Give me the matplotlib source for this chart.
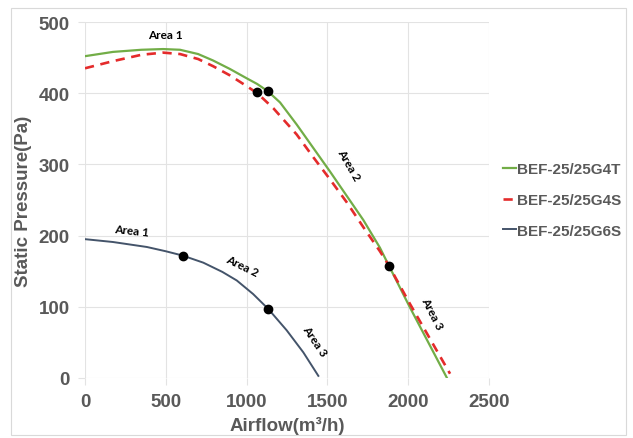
import matplotlib
matplotlib.use("Agg")
from matplotlib import pyplot as plt
from matplotlib.patches import Rectangle

plt.rcParams["font.family"] = ["Liberation Sans", "DejaVu Sans"]

# curve data (airflow m3/h, static pressure Pa)
g4t_flow = [0, 173, 350, 483, 588, 700, 792, 897, 1000, 1065, 1130, 1207, 1310, 1413, 1516,
            1619, 1722, 1825, 1880, 2011, 2240]
g4t_pres = [452, 458, 461, 462, 461, 455, 446, 434, 421, 413, 403, 387, 356, 323, 290,
            256, 222, 183, 158, 99, 0]

g4s_flow = [0, 173, 350, 483, 588, 700, 792, 897, 1000, 1066, 1165, 1310, 1413, 1516,
            1619, 1722, 1825, 1880, 2011, 2259]
g4s_pres = [435, 445, 454, 457, 455, 448, 438, 425, 410, 400, 379, 342, 310, 279,
            247, 212, 178, 158, 104, 6]

g6s_flow = [0, 173, 383, 500, 604, 732, 850, 939, 1040, 1134, 1248, 1351, 1444]
g6s_pres = [195, 191, 184, 178, 172, 162, 149, 137, 118, 97, 67, 36, 3]

# area boundary dots
dot_flow = [1066, 1130, 1880, 604, 1134]
dot_pres = [401, 403, 157, 172, 97]

series_names = ["BEF-25/25G4T", "BEF-25/25G4S", "BEF-25/25G6S"]
x_ticks = [0, 500, 1000, 1500, 2000, 2500]
y_ticks = [0, 100, 200, 300, 400, 500]

# area labels: text, x, y, rotation
area_labels = [
    ("Area 1", 495, 483, 0),
    ("Area 2", 1632, 300, -60),
    ("Area 3", 2150, 92, -63),
    ("Area 1", 290, 208, -6),
    ("Area 2", 970, 158, -26),
    ("Area 3", 1423, 53, -56),
]

grey = "#595959"

fig = plt.figure(figsize=(6.33, 4.39), dpi=100)
ax = fig.add_axes([85 / 633, 1 - 379 / 439, 404 / 633, 356 / 439])

ax.plot(g4t_flow, g4t_pres, color="#72ad47", lw=1.6, label=series_names[0], zorder=3)
ax.plot(g4s_flow, g4s_pres, color="#e42b2b", lw=1.9, ls=(0, (3.5, 2.5)),
        label=series_names[1], zorder=3)
ax.plot(g6s_flow, g6s_pres, color="#44546a", lw=1.4, label=series_names[2], zorder=3)
ax.plot(dot_flow, dot_pres, "o", color="black", ms=6, zorder=4)

for txt, x, y, rot in area_labels:
    ax.text(x, y, txt, rotation=rot, ha="center", va="center", fontsize=8.5,
            fontweight="bold", family="Lato", rotation_mode="anchor")

ax.set_xlim(0, 2500)
ax.set_ylim(0, 500)
ax.set_xticks(x_ticks)
ax.set_yticks(y_ticks)
ax.grid(True, color="#e3e3e3", lw=0.8)
ax.set_axisbelow(True)
for s in ax.spines.values():
    s.set_visible(False)
ax.tick_params(axis="both", colors="#e3e3e3", labelcolor=grey, labelsize=13.5,
               length=5, width=0.8)
ax.tick_params(axis="y", pad=6)
ax.tick_params(axis="x", pad=6)
for lab in ax.get_xticklabels() + ax.get_yticklabels():
    lab.set_fontweight("bold")

ax.set_xlabel("Airflow(m³/h)", fontsize=13.5, fontweight="bold", color=grey, labelpad=4)
ax.set_ylabel("Static Pressure(Pa)", fontsize=13.5, fontweight="bold", color=grey, labelpad=5)

leg = ax.legend(loc="center left", bbox_to_anchor=(1.0, 0.5), frameon=False,
                fontsize=11, handlelength=0.85, handletextpad=0.05, labelspacing=1.1,
                borderaxespad=0.5)
for t in leg.get_texts():
    t.set_fontweight("bold")
    t.set_color(grey)

fig.patches.append(Rectangle((11 / 633, 1 - 436 / 439), 615 / 633, 427 / 439,
                             transform=fig.transFigure, fill=False,
                             edgecolor="#d9d9d9", lw=0.8))

fig.savefig("out.png", dpi=100)
